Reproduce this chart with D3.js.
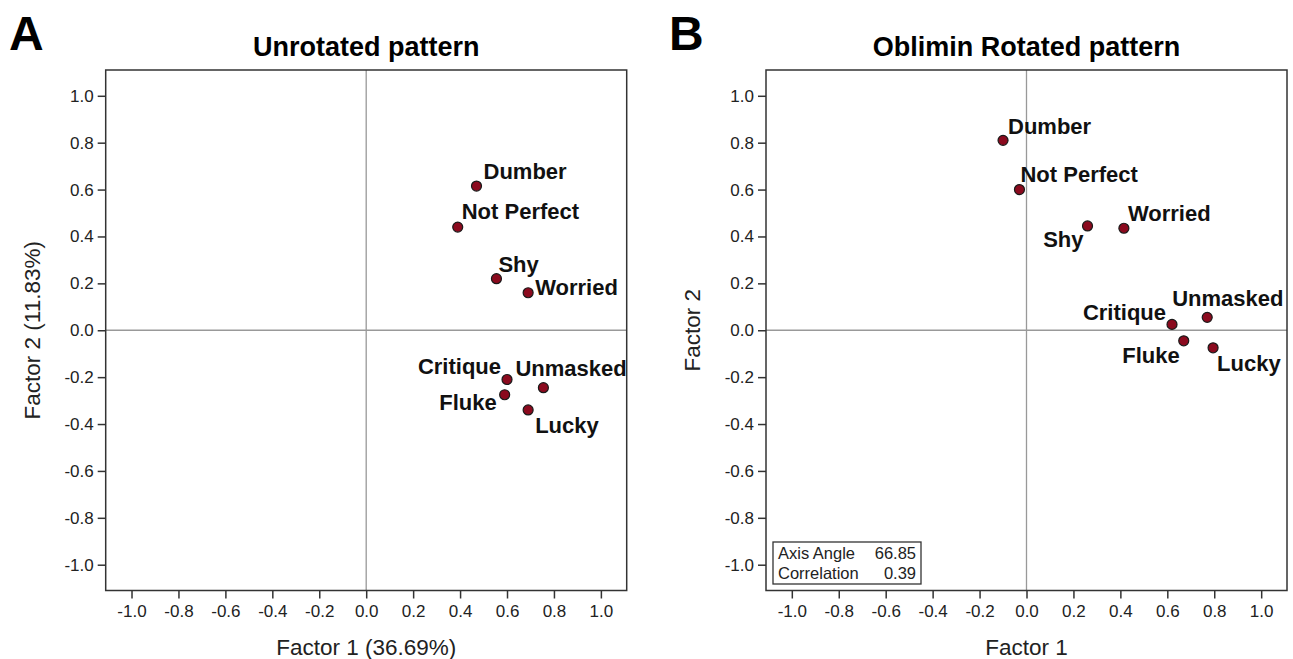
<!DOCTYPE html>
<html>
<head>
<meta charset="utf-8">
<script src="https://cdn.jsdelivr.net/npm/d3@7"></script>
<style>
  body { margin: 0; background: #fff; }
  svg { font-family: Arial, "Liberation Sans", sans-serif; }
</style>
</head>
<body>
<svg id="chart" width="1293" height="659"></svg>
<script>
// item names, shared by both panels
const items = ["Dumber", "Not Perfect", "Shy", "Worried", "Critique", "Unmasked", "Fluke", "Lucky"];

// unrotated loadings
const unrotF1 = [0.47, 0.39, 0.555, 0.69, 0.60, 0.755, 0.59, 0.69];
const unrotF2 = [0.615, 0.44, 0.22, 0.16, -0.21, -0.245, -0.275, -0.34];

// oblimin rotated loadings
const oblF1 = [-0.10, -0.03, 0.26, 0.415, 0.62, 0.77, 0.67, 0.795];
const oblF2 = [0.81, 0.60, 0.445, 0.435, 0.025, 0.055, -0.045, -0.075];

const tickVals = [-1.0, -0.8, -0.6, -0.4, -0.2, 0.0, 0.2, 0.4, 0.6, 0.8, 1.0];
const rotationStats = [["Axis Angle", "66.85"], ["Correlation", "0.39"]];

// label placement relative to the point: [dx, dy, anchor]
const labelPosA = {
  "Dumber": [7, -7, "start"], "Not Perfect": [4, -8, "start"], "Shy": [2, -7, "start"],
  "Worried": [7, 2, "start"], "Critique": [-6, -5, "end"], "Unmasked": [-28, -12, "start"],
  "Fluke": [-8, 15, "end"], "Lucky": [7, 23, "start"]
};
const labelPosB = {
  "Dumber": [5, -6, "start"], "Not Perfect": [1, -8, "start"], "Shy": [-4, 21, "end"],
  "Worried": [4, -7, "start"], "Critique": [-6, -4, "end"], "Unmasked": [-35, -11, "start"],
  "Fluke": [-4, 22, "end"], "Lucky": [4, 23, "start"]
};

const svg = d3.select("#chart");
const dom = [-1.11, 1.11];
const fmt = v => d3.format(".1f")(v).replace("\u2212", "-");

function drawPanel(opts) {
  const g = svg.append("g");
  const x = d3.scaleLinear().domain(dom).range([opts.left, opts.left + 521]);
  const y = d3.scaleLinear().domain(dom).range([590.5, 70]);

  // panel letter and title
  g.append("text").attr("x", opts.letterX).attr("y", 50)
    .style("font-size", "48px").style("font-weight", "bold").text(opts.letter);
  g.append("text").attr("x", x(0)).attr("y", 56).attr("text-anchor", "middle")
    .style("font-size", "27px").style("font-weight", "bold").text(opts.title);

  // zero reference lines
  g.append("line").attr("x1", x(0)).attr("x2", x(0)).attr("y1", y(dom[1])).attr("y2", y(dom[0]))
    .style("stroke", "#999").style("stroke-width", 1.3);
  g.append("line").attr("x1", x(dom[0])).attr("x2", x(dom[1])).attr("y1", y(0)).attr("y2", y(0))
    .style("stroke", "#999").style("stroke-width", 1.3);

  const xAxis = g.append("g").attr("transform", `translate(0,${y(dom[0])})`)
    .call(d3.axisBottom(x).tickValues(tickVals).tickFormat(fmt).tickSize(8).tickPadding(6));
  const yAxis = g.append("g").attr("transform", `translate(${x(dom[0])},0)`)
    .call(d3.axisLeft(y).tickValues(tickVals).tickFormat(fmt).tickSize(8).tickPadding(4));
  [xAxis, yAxis].forEach(a => {
    a.select(".domain").remove();
    a.selectAll("line").style("stroke", "#333").style("stroke-width", 1.5);
    a.selectAll("text").style("font-size", "17px").style("fill", "#222")
      .style("font-family", "Arial, 'Liberation Sans', sans-serif");
  });

  // frame
  g.append("rect").attr("x", x(dom[0])).attr("y", y(dom[1]))
    .attr("width", x(dom[1]) - x(dom[0])).attr("height", y(dom[0]) - y(dom[1]))
    .style("fill", "none").style("stroke", "#333").style("stroke-width", 1.5);

  // axis titles
  g.append("text").attr("x", x(0)).attr("y", 655).attr("text-anchor", "middle")
    .style("font-size", "22.5px").style("fill", "#222").text(opts.xLabel);
  g.append("text").attr("transform", `translate(${opts.left - 66},${y(0)}) rotate(-90)`)
    .attr("text-anchor", "middle").style("font-size", "22.5px").style("fill", "#222").text(opts.yLabel);

  const pts = items.map((name, i) => ({ name, f1: opts.f1[i], f2: opts.f2[i] }));

  g.selectAll("circle.pt").data(pts).enter().append("circle").attr("class", "pt")
    .attr("cx", d => x(d.f1)).attr("cy", d => y(d.f2)).attr("r", 5)
    .style("fill", "#8b0a1e").style("stroke", "#1a1a1a").style("stroke-width", 1.2);

  g.selectAll("text.lbl").data(pts).enter().append("text").attr("class", "lbl")
    .attr("x", d => x(d.f1) + opts.pos[d.name][0])
    .attr("y", d => y(d.f2) + opts.pos[d.name][1])
    .attr("text-anchor", d => opts.pos[d.name][2])
    .style("font-size", "22px").style("font-weight", "bold").style("fill", "#111")
    .text(d => d.name);

  return { g, x, y };
}

drawPanel({ left: 105.7, letter: "A", letterX: 9, title: "Unrotated pattern",
  xLabel: "Factor 1 (36.69%)", yLabel: "Factor 2 (11.83%)", f1: unrotF1, f2: unrotF2, pos: labelPosA });

const pB = drawPanel({ left: 766, letter: "B", letterX: 669, title: "Oblimin Rotated pattern",
  xLabel: "Factor 1", yLabel: "Factor 2", f1: oblF1, f2: oblF2, pos: labelPosB });

// rotation info box
const info = pB.g.append("g").attr("transform", "translate(773,542)");
info.append("rect").attr("width", 148).attr("height", 42)
  .style("fill", "#fff").style("stroke", "#333").style("stroke-width", 1.3);
info.selectAll("text.k").data(rotationStats).enter().append("text").attr("class", "k")
  .attr("x", 5).attr("y", (d, i) => 17 + i * 20).style("font-size", "16.5px").style("fill", "#222")
  .text(d => d[0]);
info.selectAll("text.v").data(rotationStats).enter().append("text").attr("class", "v")
  .attr("x", 143).attr("y", (d, i) => 17 + i * 20).attr("text-anchor", "end")
  .style("font-size", "16.5px").style("fill", "#222").text(d => d[1]);
</script>
</body>
</html>
